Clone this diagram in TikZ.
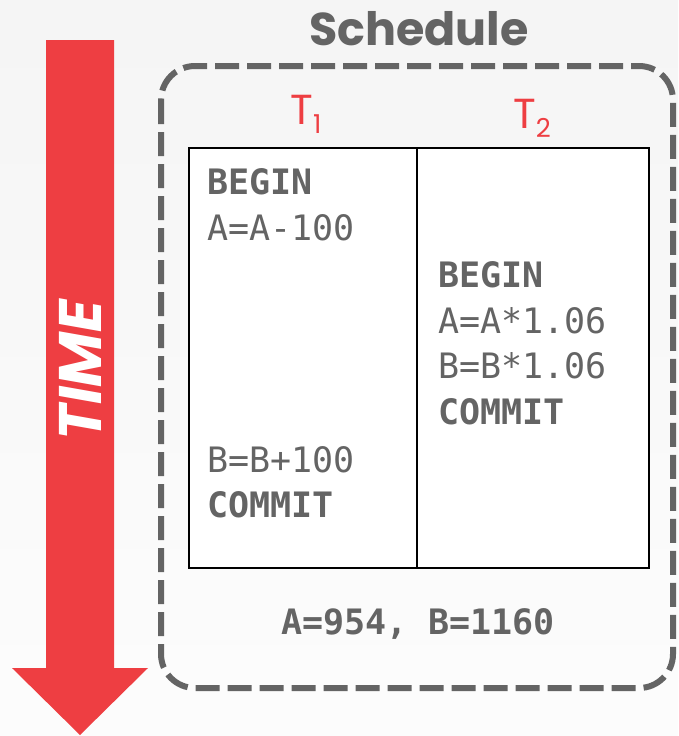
\documentclass[tikz,border=0pt]{standalone}
\usepackage{fontspec}
\setmonofont{DejaVu Sans Mono}
\newfontfamily\headfont{Poppins}
\usetikzlibrary{calc}
\definecolor{txtgray}{HTML}{646464}
\definecolor{tred}{HTML}{EE3E42}
\newcommand{\tsub}[1]{T\raisebox{-9pt}{\fontsize{26}{28}\selectfont #1}}
\begin{document}
\begin{tikzpicture}[x=1pt,y=-1pt,
  mono/.style={font=\ttfamily\fontsize{35}{40}\selectfont, text=txtgray, anchor=base west, inner sep=0pt},
  monob/.style={mono, font=\ttfamily\bfseries\fontsize{35}{40}\selectfont},
  tlabel/.style={font=\headfont\fontsize{42}{44}\selectfont, text=tred, anchor=base, inner sep=0pt},
  schedbox/.style={draw=txtgray, line width=6pt, dash pattern=on 24pt off 8pt, rounded corners=34pt}]
\useasboundingbox (0,0) rectangle (678,736);
\shade[top color=black!4, bottom color=black!1] (0,0) rectangle (678,736);
% time arrow
\fill[tred] (46,40) -- (114,40) -- (114,668) -- (148,668) -- (80,735) -- (12,668) -- (46,668) -- cycle;
\node[rotate=90, text=white, font=\headfont\bfseries\itshape\fontsize{60}{64}\selectfont, inner sep=0pt] (time) at (80,370) {TIME};
% schedule box
\draw[schedbox] (161,66) rectangle (673,688);
\node[font=\headfont\bfseries\fontsize{46}{50}\selectfont, text=txtgray, anchor=base, inner sep=0pt] (sched) at (419,45) {Schedule};
% table
\node[draw=black, line width=1.5pt, minimum width=460pt, minimum height=420pt, inner sep=0pt, fill=white, anchor=north west] (tab) at (188,147) {};
\coordinate (dtop) at (417,147);
\coordinate (dbot) at (417,567);
\draw[line width=1.5pt] (dtop) -- (dbot);
\node[tlabel] (t1) at (306,124) {\tsub{1}};
\node[tlabel] (t2) at (532,128) {\tsub{2}};
% T1
\node[monob] (b1) at (207,194) {BEGIN};
\node[mono] (a1) at (207,240) {A=A-100};
\node[mono] (c1) at (207,472) {B=B+100};
\node[monob] (m1) at (207,517) {COMMIT};
% T2
\node[monob] (b2) at (438,287) {BEGIN};
\node[mono] (a2) at (438,333) {A=A*1.06};
\node[mono] (c2) at (438,378) {B=B*1.06};
\node[monob] (m2) at (438,424) {COMMIT};
% result
\node[monob, anchor=base] (res) at (418,634) {A=954, B=1160};
\end{tikzpicture}
\end{document}
